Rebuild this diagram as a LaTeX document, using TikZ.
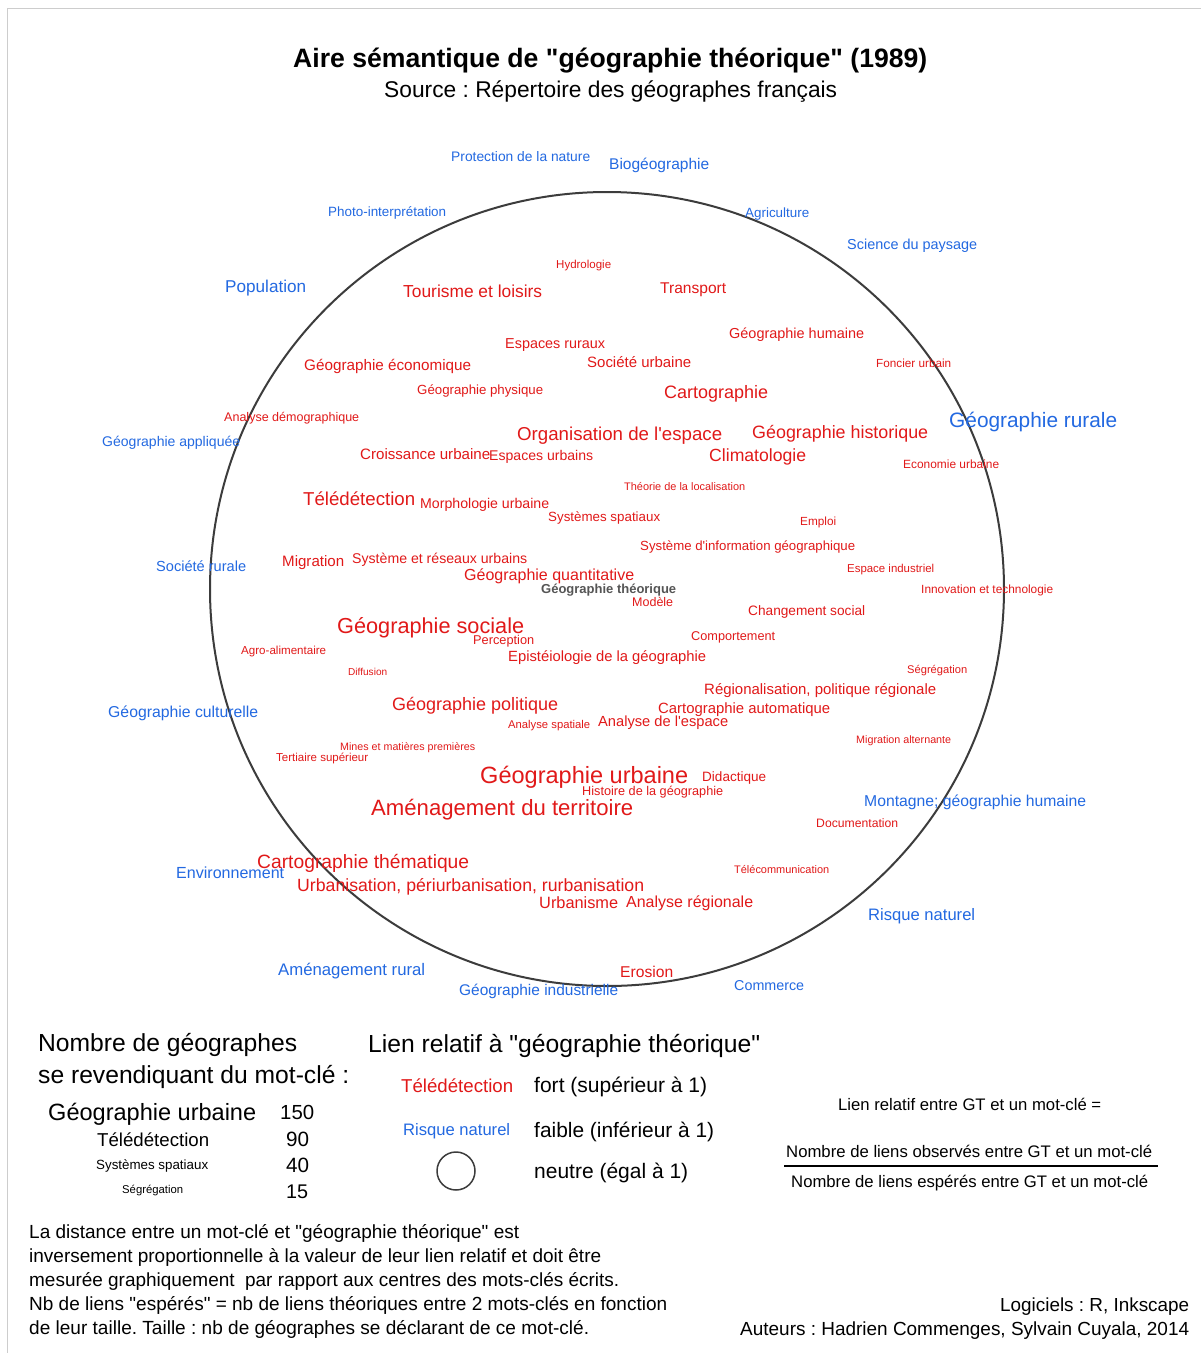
\documentclass[tikz,border=0pt]{standalone}
\usepackage{fontspec}
\setmainfont{Liberation Sans}[Ligatures=TeXOff]
\usepackage{graphicx}
\definecolor{kred}{RGB}{225,25,25}
\definecolor{kblue}{RGB}{35,105,225}
\definecolor{kgray}{RGB}{85,85,85}
\definecolor{frame}{RGB}{205,205,205}
\definecolor{ring}{RGB}{60,60,60}
\tikzset{kw/.style={anchor=west,inner sep=0pt}}
\newcommand{\kw}[6]{\node[kw,text=#2] (#1) at (#3,#5) {\resizebox{#4pt}{!}{\vphantom{Ég}#6}};}
\frenchspacing
\begin{document}
\begin{tikzpicture}[x=1pt,y=-1pt]
\path[use as bounding box,fill=white] (0,0) rectangle (1201,1353);
\draw[frame,line width=1pt] (7,1353) -- (7,8) -- (1201,8);
% circle
\node[draw=ring,line width=2pt,circle,minimum size=794pt,inner sep=0pt] (ring) at (607,589) {};
% title
\kw{t1}{black}{293}{634}{59}{\bfseries Aire sémantique de "géographie théorique" (1989)}
\kw{t2}{black}{384}{453}{90}{Source : Répertoire des géographes français}
% blue keywords
\kw{b1}{kblue}{451}{139}{157}{Protection de la nature}
\kw{b2}{kblue}{609}{100}{164}{Biogéographie}
\kw{b3}{kblue}{328}{118}{212}{Photo-interprétation}
\kw{b4}{kblue}{745}{64}{213}{Agriculture}
\kw{b5}{kblue}{847}{130}{245}{Science du paysage}
\kw{b6}{kblue}{225}{81}{287}{Population}
\kw{b7}{kblue}{949}{168}{421}{Géographie rurale}
\kw{b8}{kblue}{102}{138}{442}{Géographie appliquée}
\kw{b9}{kblue}{156}{90}{567}{Société rurale}
\kw{b10}{kblue}{108}{150}{712}{Géographie culturelle}
\kw{b11}{kblue}{864}{222}{801}{Montagne; géographie humaine}
\kw{b12}{kblue}{176}{108}{873}{Environnement}
\kw{b13}{kblue}{868}{107}{915}{Risque naturel}
\kw{b14}{kblue}{278}{147}{970}{Aménagement rural}
\kw{b15}{kblue}{459}{159}{990}{Géographie industrielle}
\kw{b16}{kblue}{734}{70}{986}{Commerce}
% red keywords
\kw{r1}{kred}{556}{55}{265}{Hydrologie}
\kw{r2}{kred}{403}{139}{292}{Tourisme et loisirs}
\kw{r3}{kred}{660}{66}{288}{Transport}
\kw{r4}{kred}{729}{135}{334}{Géographie humaine}
\kw{r5}{kred}{505}{100}{344}{Espaces ruraux}
\kw{r6}{kred}{304}{167}{365}{Géographie économique}
\kw{r7}{kred}{587}{104}{363}{Société urbaine}
\kw{r8}{kred}{876}{75}{364}{Foncier urbain}
\kw{r9}{kred}{417}{126}{390}{Géographie physique}
\kw{r10}{kred}{664}{104}{393}{Cartographie}
\kw{r11}{kred}{224}{135}{417}{Analyse démographique}
\kw{r12}{kred}{517}{205}{434}{Organisation de l'espace}
\kw{r13}{kred}{752}{176}{433}{Géographie historique}
\kw{r14}{kred}{360}{130}{455}{Croissance urbaine}
\kw{r15}{kred}{489}{104}{456}{Espaces urbains}
\kw{r16}{kred}{709}{97}{456}{Climatologie}
\kw{r17}{kred}{903}{96}{465}{Economie urbaine}
\kw{r18}{kred}{624}{121}{487}{Théorie de la localisation}
\kw{r19}{kred}{303}{112}{499}{Télédétection}
\kw{r20}{kred}{420}{129}{504}{Morphologie urbaine}
\kw{r21}{kred}{548}{112}{517}{Systèmes spatiaux}
\kw{r22}{kred}{800}{36}{522}{Emploi}
\kw{r23}{kred}{640}{215}{546}{Système d'information géographique}
\kw{r24}{kred}{282}{62}{562}{Migration}
\kw{r25}{kred}{352}{175}{559}{Système et réseaux urbains}
\kw{r26}{kred}{847}{87}{569}{Espace industriel}
\kw{r27}{kred}{464}{170}{575}{Géographie quantitative}
\kw{g0}{kgray}{541}{135}{589}{\bfseries Géographie théorique}
\kw{r28}{kred}{921}{132}{590}{Innovation et technologie}
\kw{r29}{kred}{632}{41}{602}{Modèle}
\kw{r30}{kred}{748}{117}{611}{Changement social}
\kw{r31}{kred}{337}{187}{626}{Géographie sociale}
\kw{r32}{kred}{473}{61}{640}{Perception}
\kw{r33}{kred}{691}{84}{636}{Comportement}
\kw{r34}{kred}{241}{85}{651}{Agro-alimentaire}
\kw{r35}{kred}{508}{198}{657}{Epistéiologie de la géographie}
\kw{r36}{kred}{907}{60}{670}{Ségrégation}
\kw{r37}{kred}{348}{39}{672}{Diffusion}
\kw{r38}{kred}{704}{232}{690}{Régionalisation, politique régionale}
\kw{r39}{kred}{392}{166}{705}{Géographie politique}
\kw{r40}{kred}{658}{172}{709}{Cartographie automatique}
\kw{r41}{kred}{508}{82}{725}{Analyse spatiale}
\kw{r42}{kred}{598}{130}{722}{Analyse de l'espace}
\kw{r43}{kred}{856}{95}{740}{Migration alternante}
\kw{r44}{kred}{340}{135}{747}{Mines et matières premières}
\kw{r45}{kred}{276}{92}{758}{Tertiaire supérieur}
\kw{r46}{kred}{480}{208}{776}{Géographie urbaine}
\kw{r47}{kred}{702}{64}{777}{Didactique}
\kw{r48}{kred}{582}{141}{791}{Histoire de la géographie}
\kw{r49}{kred}{371}{262}{808}{Aménagement du territoire}
\kw{r50}{kred}{816}{82}{823}{Documentation}
\kw{r51}{kred}{257}{212}{862}{Cartographie thématique}
\kw{r52}{kred}{734}{95}{870}{Télécommunication}
\kw{r53}{kred}{297}{347}{886}{Urbanisation, périurbanisation, rurbanisation}
\kw{r54}{kred}{539}{79}{903}{Urbanisme}
\kw{r55}{kred}{626}{127}{902}{Analyse régionale}
\kw{r56}{kred}{620}{53}{972}{Erosion}
% legend: size
\kw{l1}{black}{38}{259}{1043}{Nombre de géographes}
\kw{l2}{black}{38}{311}{1075}{se revendiquant du mot-clé :}
\kw{l4}{black}{48}{208}{1113}{Géographie urbaine}
\kw{l5}{black}{280}{34}{1113}{150}
\kw{l6}{black}{97}{112}{1140}{Télédétection}
\kw{l7}{black}{286}{23}{1140}{90}
\kw{l8}{black}{96}{112}{1165}{Systèmes spatiaux}
\kw{l9}{black}{286}{23}{1166}{40}
\kw{l10}{black}{122}{61}{1190}{Ségrégation}
\kw{l11}{black}{286}{22}{1192}{15}
% legend: relative link
\kw{l3}{black}{368}{392}{1044}{Lien relatif à "géographie théorique"}
\kw{l12}{kred}{401}{112}{1086}{Télédétection}
\kw{l13}{black}{534}{173}{1086}{fort (supérieur à 1)}
\kw{l14}{kblue}{403}{107}{1130}{Risque naturel}
\kw{l15}{black}{534}{180}{1131}{faible (inférieur à 1)}
\node[draw=ring,line width=1.5pt,circle,minimum size=38pt,inner sep=0pt] (lc) at (456,1171) {};
\kw{l16}{black}{534}{154}{1172}{neutre (égal à 1)}
% formula
\kw{f1}{black}{838}{263}{1105}{Lien relatif entre GT et un mot-clé =}
\kw{f2}{black}{786}{366}{1152}{Nombre de liens observés entre GT et un mot-clé}
\kw{f3}{black}{791}{357}{1182}{Nombre de liens espérés entre GT et un mot-clé}
\coordinate (fa) at (784,1166);
\coordinate (fb) at (1158,1166);
\draw[line width=1.5pt] (fa) -- (fb);
% notes
\kw{p1}{black}{29}{490}{1232}{La distance entre un mot-clé et "géographie théorique" est}
\kw{p2}{black}{29}{572}{1256}{inversement proportionnelle à la valeur de leur lien relatif et doit être}
\kw{p3}{black}{29}{590}{1280}{mesurée graphiquement\ \ par rapport aux centres des mots-clés écrits.}
\kw{p4}{black}{29}{638}{1304}{Nb de liens "espérés" = nb de liens théoriques entre 2 mots-clés en fonction}
\kw{p5}{black}{29}{560}{1328}{de leur taille. Taille : nb de géographes se déclarant de ce mot-clé.}
\kw{a1}{black}{1000}{189}{1305}{Logiciels : R, Inkscape}
\kw{a2}{black}{740}{449}{1329}{Auteurs : Hadrien Commenges, Sylvain Cuyala, 2014}
\end{tikzpicture}
\end{document}
